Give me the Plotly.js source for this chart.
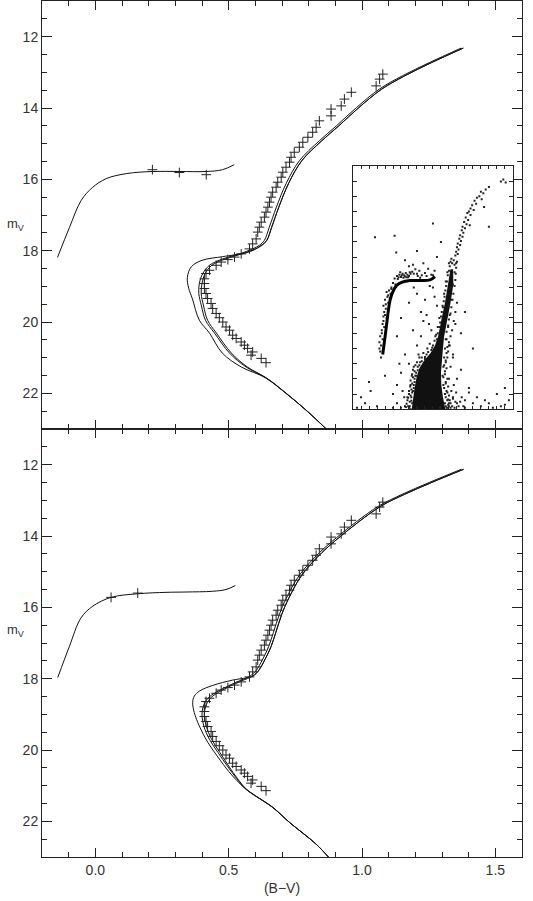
<!DOCTYPE html>
<html>
<head>
<meta charset="utf-8">
<script src="https://cdn.plot.ly/plotly-3.0.1.min.js"></script>
<style>
  html, body { margin: 0; padding: 0; background: #fff; }
  #cmd { width: 533px; height: 901px; }
</style>
</head>
<body>
<div id="cmd"></div>
<script>
// fiducial sequence (same in both panels)
var fidBV = [1.078,1.066,1.053,0.96,0.934,0.922,0.884,0.884,0.84,0.828,0.815,0.797,0.778,0.765,0.746,0.734,0.728,0.715,0.703,0.697,0.684,0.678,0.665,0.659,0.653,0.647,0.64,0.634,0.622,0.615,0.609,0.603,0.59,0.578,0.547,0.522,0.497,0.472,0.453,0.428,0.415,0.409,0.409,0.409,0.415,0.421,0.434,0.44,0.453,0.465,0.478,0.49,0.503,0.515,0.528,0.547,0.559,0.571,0.59,0.584,0.622,0.64];
var fidV = [13.05,13.19,13.38,13.56,13.75,13.94,14.03,14.22,14.36,14.54,14.68,14.82,14.96,15.1,15.24,15.38,15.52,15.66,15.8,15.94,16.08,16.22,16.36,16.5,16.64,16.78,16.92,17.06,17.2,17.34,17.48,17.67,17.81,17.95,18.09,18.18,18.25,18.32,18.41,18.55,18.64,18.79,18.92,19.06,19.2,19.34,19.48,19.62,19.76,19.88,20.0,20.14,20.23,20.37,20.46,20.56,20.65,20.74,20.84,20.93,21.02,21.14];

// horizontal branch points
var topHbPtsBV = [0.214, 0.315, 0.416];
var topHbPtsV = [15.73, 15.81, 15.87];
var botHbPtsBV = [0.059, 0.159];
var botHbPtsV = [15.72, 15.6];

// isochrones, top panel
var topY = [12.32,12.73,13.1,13.47,13.99,14.5,14.92,15.48,16.11,16.78,17.35,17.71,17.85,17.95,18.09,18.23,18.41,18.64,18.92,19.2,19.55,19.95,20.31,20.87,21.26,21.57,22.0,22.47,23.05];
var topB = [1.372,1.252,1.151,1.065,0.979,0.904,0.84,0.765,0.716,0.679,0.652,0.634,0.615,0.59,0.54,0.478,0.428,0.403,0.39,0.388,0.398,0.413,0.447,0.503,0.565,0.64,0.715,0.79,0.873];
var topC = [1.38,1.26,1.16,1.074,0.988,0.913,0.849,0.774,0.725,0.688,0.661,0.643,0.625,0.60,0.55,0.488,0.437,0.412,0.40,0.397,0.406,0.421,0.454,0.51,0.57,0.642,0.716,0.79,0.873];
var topA = [1.38,1.26,1.16,1.074,0.988,0.913,0.849,0.774,0.725,0.688,0.661,0.643,0.622,0.595,0.566,0.52,0.476,0.40,0.36,0.345,0.35,0.364,0.39,0.428,0.476,0.547,0.64,0.715,0.79,0.873];
var topAY = [12.32,12.73,13.1,13.47,13.99,14.5,14.92,15.48,16.11,16.78,17.35,17.71,17.85,17.98,18.06,18.12,18.17,18.27,18.45,18.75,19.05,19.35,19.95,20.31,20.87,21.26,21.57,22.0,22.47,23.05];
var topHbBV = [-0.142,-0.097,-0.053,-0.011,0.041,0.116,0.214,0.315,0.416,0.477,0.521];
var topHbV = [18.19,17.35,16.59,16.23,15.98,15.84,15.78,15.78,15.78,15.73,15.59];

// isochrones, bottom panel
var botY = [12.13,12.5,12.83,13.15,13.6,14.05,14.47,15.1,15.75,16.2,16.7,17.1,17.45,17.8,17.95,18.04,18.21,18.38,18.56,18.77,19.0,19.33,19.7,20.07,20.45,20.8,21.1,21.61,22.03,22.64,23.05];
var botB = [1.372,1.252,1.151,1.065,0.979,0.904,0.84,0.765,0.716,0.69,0.668,0.65,0.628,0.60,0.575,0.547,0.497,0.453,0.421,0.405,0.40,0.407,0.428,0.46,0.495,0.53,0.565,0.665,0.728,0.828,0.88];
var botC = [1.381,1.261,1.16,1.074,0.988,0.913,0.849,0.774,0.725,0.699,0.677,0.659,0.637,0.609,0.584,0.556,0.506,0.462,0.43,0.414,0.409,0.416,0.436,0.467,0.5,0.533,0.567,0.666,0.728,0.828,0.88];
var botA = [1.381,1.261,1.16,1.074,0.988,0.913,0.849,0.774,0.725,0.699,0.677,0.659,0.637,0.612,0.59,0.515,0.44,0.39,0.371,0.365,0.371,0.39,0.422,0.46,0.50,0.53,0.565,0.665,0.728,0.828,0.88];
var botAY = [12.13,12.5,12.83,13.15,13.6,14.05,14.47,15.1,15.75,16.2,16.7,17.1,17.45,17.78,17.93,18.04,18.19,18.35,18.49,18.67,18.95,19.33,19.79,20.2,20.6,20.85,21.1,21.61,22.03,22.64,23.05];
var botHbBV = [-0.141,-0.097,-0.054,-0.01,0.059,0.159,0.265,0.34,0.44,0.49,0.525];
var botHbV = [17.97,17.09,16.3,15.97,15.72,15.62,15.58,15.57,15.55,15.5,15.39];

// inset: observed CMD
var insetHbBV = [-0.129,-0.1,-0.079,-0.058,-0.038,-0.004,0.046,0.108,0.213,0.338,0.463,0.525];
var insetHbV = [18.2,17.63,17.19,16.75,16.43,16.15,15.93,15.83,15.77,15.77,15.75,15.64];
// solid main-sequence + lower giant branch outline
var coreBV = [0.235,0.25,0.27,0.295,0.33,0.39,0.47,0.525,0.565,0.61,0.65,0.688,0.718,0.752,0.755,0.72,0.68,0.64,0.625,0.61,0.60,0.605,0.625,0.655];
var coreV = [20.0,19.6,19.3,18.95,18.65,18.4,18.15,17.9,17.6,17.0,16.5,15.9,15.4,15.4,15.9,16.5,17.0,17.6,18.0,18.4,18.8,19.2,19.6,20.0];
var starBV = [
  1.38,1.41,1.35,1.20,1.16,1.13,1.10,1.08,1.05,1.11,1.02,1.04,0.99,0.97,1.01,0.95,0.93,0.97,0.91,0.94,0.89,0.92,0.87,0.90,0.86,0.88,0.84,0.87,0.83,0.85,0.81,0.84,0.80,0.82,0.79,0.81,0.78,1.14,0.96,
  0.02,0.05,0.08,0.10,0.12,0.14,0.16,0.18,0.20,0.22,0.06,0.09,0.13,0.17,0.24,0.28,0.30,0.33,0.36,0.40,0.44,0.48,0.52,0.25,0.20,0.38,0.46,0.03,-0.02,0.00,0.15,0.04,
  0.19,0.11,0.07,0.15,0.21,0.26,0.31,0.34,0.42,0.5,
  -0.05,-0.07,-0.06,-0.09,-0.10,-0.12,-0.11,-0.14,-0.13,-0.15,-0.16,-0.12,-0.04,-0.08,-0.15,-0.17,-0.03,-0.10,
  -0.02,-0.06,-0.09,-0.11,-0.13,-0.14,-0.16,-0.17,-0.08,-0.12,
  -0.225,0.02,0.5,0.3,0.6,0.55,1.2,0.2,0.35,0.45,0.1,0.25,0.3,0.05,0.4,0.15,-0.3,-0.28,-0.4,-0.2,0.0,0.05,0.1,0.18,0.15,0.85,0.95,1.05,1.2,1.3,1.4,0.8,0.9,1.1,0.75,0.85,0.9,1.0,0.7,0.78,0.2,0.22,0.12,0.08,-0.1,0.35,0.5,0.55,1.4,0.65,
  0.30,0.42,0.48,0.38,0.26,0.52,0.46,
  0.55,0.56,0.58,0.59,0.60,0.61,0.625,0.635,0.645,0.655,0.665,0.675,0.685,0.70,0.71,0.72,0.73,
  0.66,0.67,0.69,0.70,0.72,0.73,0.745,0.755,0.77,0.78,0.785,0.79,0.80,0.77,0.76,0.74,0.725,0.70,
  0.20,0.21,0.22,0.23,0.24,0.20,0.18,0.25,0.27,0.28,0.30,0.33,0.38,0.43,0.46,0.32,0.26,0.24,
  0.67,0.69,0.71,0.66,0.68,0.64,0.66,0.63,0.65,0.64,0.66,0.67,0.68,0.70,0.74,0.78,0.82,0.86,0.73,0.76,0.70,0.72,0.75,
  0.10,0.05,0.14,0.9,1.0,1.15,1.25,1.35,1.45,0.95,-0.35,-0.45,0.0,
  0.22,0.24,0.23,0.25,0.26,0.27,0.29,0.31,0.34,0.36,0.42,0.48,0.50,0.53,0.56,0.58,0.62,0.64,0.66,0.68,0.70,0.66,0.68,0.65,0.70,0.63,0.62,0.63,0.64,0.65,0.67,0.69,0.71,0.73,0.75,0.77,0.79,0.72,0.75,0.19,0.28,0.4,0.6,0.58,0.3,
  0.16,0.17,0.19,0.2,0.215,0.22,0.235,0.25,0.21,0.23,0.24,0.26,0.27,0.29,0.31,0.33,0.36,0.40,0.44,0.49,0.52,0.54,
  0.68,0.7,0.72,0.69,0.7,0.67,0.69,0.66,0.68,0.65,0.67,0.66,0.68,0.69,0.71,0.72,0.74,0.76,0.78,0.8,0.77,0.8,0.75,0.84,0.88,0.79
];
var starV = [
  12.45,12.55,12.52,12.70,12.78,12.90,12.85,13.00,13.05,13.10,13.15,13.25,13.30,13.40,13.45,13.50,13.55,13.62,13.70,13.78,13.85,13.92,14.00,14.05,14.12,14.20,14.28,14.33,14.40,14.47,14.55,14.60,14.68,14.75,14.82,14.90,14.95,13.35,13.95,
  15.70,15.62,15.58,15.65,15.55,15.60,15.52,15.58,15.62,15.55,15.72,15.50,15.68,15.66,15.48,15.40,15.55,15.45,15.60,15.52,15.38,15.58,15.45,15.25,15.30,15.20,15.75,15.90,16.00,15.85,15.10,14.85,
  15.66,15.6,15.66,15.64,15.5,15.55,15.62,15.68,15.62,15.6,
  16.1,16.3,16.5,16.7,16.9,17.1,17.3,17.5,17.7,17.9,18.1,16.6,16.35,17.0,18.3,17.8,16.2,16.4,
  16.05,16.25,16.55,16.8,17.2,17.4,17.6,18.0,16.15,16.95,
  14.35,14.3,13.9,14.8,14.5,15.0,14.0,16.5,16.8,17.2,17.0,17.4,17.9,17.6,16.4,18.2,19.1,19.4,19.6,19.9,19.5,19.2,18.8,19.6,19.9,18.7,19.3,19.6,19.8,19.5,19.85,19.0,19.7,19.9,18.3,17.5,16.8,18.0,17.9,17.2,18.5,19.2,19.4,18.5,18.9,17.6,16.0,16.6,19.3,19.8,
  16.2,16.9,17.4,17.1,16.0,16.3,15.95,
  17.7,17.5,17.3,17.15,16.95,16.8,16.65,16.45,16.3,16.1,15.95,15.8,15.6,15.45,15.3,15.15,15.05,
  17.7,17.45,17.25,17.05,16.85,16.65,16.4,16.2,15.95,15.75,15.55,15.35,15.15,15.25,15.1,15.2,16.0,16.6,
  19.95,19.75,19.55,19.35,19.15,19.4,19.7,18.95,18.75,18.55,18.45,18.3,18.15,18.0,17.85,18.2,18.6,18.85,
  19.95,19.85,19.7,19.6,19.45,19.3,19.1,18.95,18.75,18.55,18.4,18.15,17.95,17.8,19.9,19.75,19.9,19.6,19.4,19.2,19.0,18.6,18.2,
  19.95,19.8,19.6,19.95,19.8,19.7,19.95,19.9,19.7,19.45,19.8,19.95,19.95,
  20.0,19.8,19.6,19.4,19.2,19.0,18.8,18.6,18.45,18.3,18.2,18.05,17.9,17.6,17.3,17.0,16.6,16.2,15.8,15.5,15.2,19.9,19.7,19.5,19.8,19.2,18.9,18.6,18.3,18.0,17.7,17.3,16.9,16.4,15.9,15.5,15.2,19.95,19.6,19.9,18.9,18.35,19.6,19.95,19.95,
  19.92,19.82,19.62,19.5,19.25,19.05,18.9,18.7,19.9,19.72,19.45,19.3,19.1,18.9,18.72,18.55,18.42,18.28,18.12,17.98,17.75,17.55,
  19.95,19.9,19.8,19.68,19.55,19.4,19.25,19.15,19.0,18.85,18.65,18.45,18.3,18.1,17.9,17.6,17.4,17.1,16.8,16.5,19.95,19.8,19.65,19.75,19.9,19.45
];

var ink = '#111';

function iso(x, y, xa, ya) {
    return {x: x, y: y, xaxis: xa, yaxis: ya, type: 'scatter', mode: 'lines',
            line: {color: ink, width: 1, shape: 'spline', smoothing: 1}, hoverinfo: 'skip'};
}
function pts(x, y, xa, ya) {
    return {x: x, y: y, xaxis: xa, yaxis: ya, type: 'scatter', mode: 'markers',
            marker: {symbol: 'cross-thin', size: 7, color: '#222', line: {color: '#222', width: 1}}, hoverinfo: 'skip'};
}

var traces = [];
// top panel
traces.push(iso(topA, topAY, 'x2', 'y'));
traces.push(iso(topB, topY, 'x2', 'y'));
traces.push(iso(topC, topY, 'x2', 'y'));
traces.push(iso(topHbBV, topHbV, 'x2', 'y'));
traces.push(pts(fidBV, fidV, 'x2', 'y'));
traces.push(pts(topHbPtsBV, topHbPtsV, 'x2', 'y'));
// bottom panel
traces.push(iso(botA, botAY, 'x', 'y2'));
traces.push(iso(botB, botY, 'x', 'y2'));
traces.push(iso(botC, botY, 'x', 'y2'));
traces.push(iso(botHbBV, botHbV, 'x', 'y2'));
traces.push(pts(fidBV, fidV, 'x', 'y2'));
traces.push(pts(botHbPtsBV, botHbPtsV, 'x', 'y2'));
// inset
traces.push({x: coreBV, y: coreV, xaxis: 'x3', yaxis: 'y3', type: 'scatter', mode: 'lines',
             fill: 'toself', fillcolor: ink, line: {width: 0}, hoverinfo: 'skip'});
traces.push({x: starBV, y: starV, xaxis: 'x3', yaxis: 'y3', type: 'scatter', mode: 'markers',
             marker: {symbol: 'square', size: 2, color: '#222'}, hoverinfo: 'skip'});
traces.push({x: insetHbBV, y: insetHbV, xaxis: 'x3', yaxis: 'y3', type: 'scatter', mode: 'lines',
             line: {color: '#000', width: 3, shape: 'spline'}, hoverinfo: 'skip'});

var tickFont = {family: 'Liberation Sans, Arial, sans-serif', size: 14, color: '#333'};
var frame = {showline: true, linecolor: '#222', linewidth: 1, mirror: 'ticks', ticks: 'inside',
             tickcolor: '#222', showgrid: false, zeroline: false};

var layout = {
    width: 533, height: 901,
    margin: {l: 42, r: 11, t: 1, b: 44},
    showlegend: false,
    paper_bgcolor: '#fff', plot_bgcolor: '#fff',
    font: tickFont,
    xaxis: Object.assign({}, frame, {
        anchor: 'y2', domain: [0, 1], range: [-0.2, 1.6], dtick: 0.5, tick0: 0, tickformat: '.1f',
        ticklen: 9, minor: {dtick: 0.1, ticks: 'inside', ticklen: 5, tickcolor: '#222'},
        tickfont: tickFont, title: {text: '(B\u2212V)', font: tickFont, standoff: 6}
    }),
    xaxis2: Object.assign({}, frame, {
        anchor: 'y', domain: [0, 1], matches: 'x', range: [-0.2, 1.6], dtick: 0.5, tick0: 0,
        ticklen: 9, minor: {dtick: 0.1, ticks: 'inside', ticklen: 5, tickcolor: '#222'},
        showticklabels: false
    }),
    yaxis: Object.assign({}, frame, {
        anchor: 'x2', domain: [0.5, 1], range: [23, 11], dtick: 2, tick0: 0,
        ticklen: 10, minor: {dtick: 0.5, ticks: 'inside', ticklen: 5, tickcolor: '#222'},
        tickfont: tickFont
    }),
    yaxis2: Object.assign({}, frame, {
        anchor: 'x', domain: [0, 0.5], range: [23, 11], dtick: 2, tick0: 0,
        ticklen: 10, minor: {dtick: 0.5, ticks: 'inside', ticklen: 5, tickcolor: '#222'},
        tickfont: tickFont
    }),
    xaxis3: Object.assign({}, frame, {
        anchor: 'y3', domain: [0.648, 0.981], range: [-0.5, 1.5], dtick: 0.1,
        ticklen: 3, showticklabels: false
    }),
    yaxis3: Object.assign({}, frame, {
        anchor: 'x3', domain: [0.523, 0.8075], range: [20, 12], dtick: 0.5,
        ticklen: 4, showticklabels: false
    }),
    annotations: [
        {xref: 'paper', yref: 'paper', x: -0.078, y: 0.751, showarrow: false,
         text: 'm<sub>V</sub>', font: {family: tickFont.family, size: 13, color: '#333'}},
        {xref: 'paper', yref: 'paper', x: -0.078, y: 0.252, showarrow: false,
         text: 'm<sub>V</sub>', font: {family: tickFont.family, size: 13, color: '#333'}}
    ]
};

Plotly.newPlot('cmd', traces, layout, {displayModeBar: false, staticPlot: true});
</script>
</body>
</html>
